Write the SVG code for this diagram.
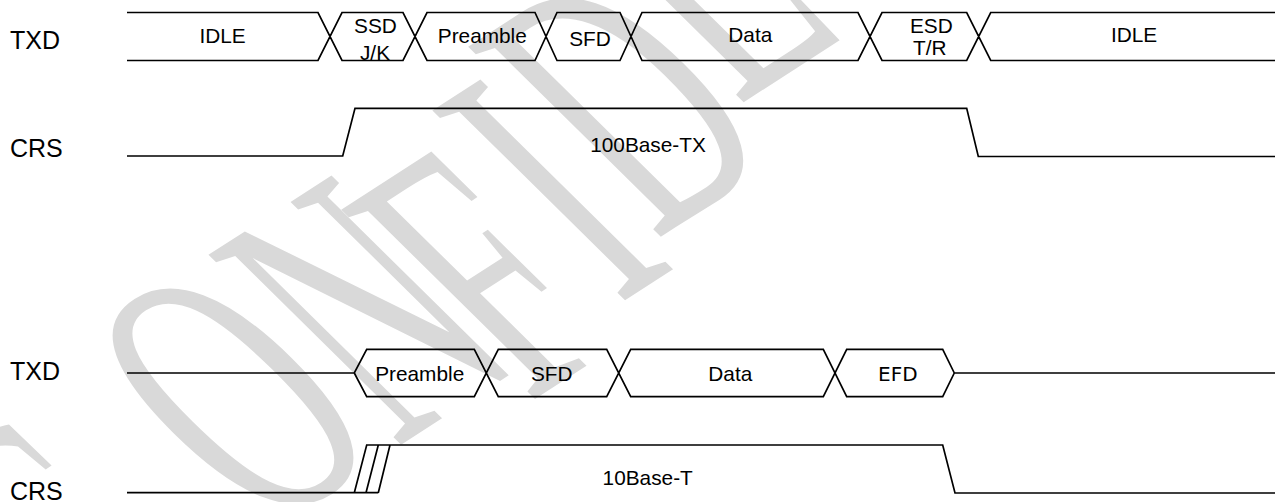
<svg xmlns="http://www.w3.org/2000/svg" width="1275" height="502" viewBox="0 0 1275 502">
<style>
.w{fill:none;stroke:#000;stroke-width:1.7;stroke-linejoin:miter}
.lbl{font-family:"Liberation Sans",Arial,sans-serif;font-size:25px;fill:#000}
.t{font-family:"Liberation Sans",Arial,sans-serif;font-size:20.8px;fill:#000;text-anchor:middle}
.tv{font-family:"DejaVu Sans",Verdana,sans-serif;font-size:20px;fill:#000;text-anchor:middle}
.wm{font-family:"Liberation Serif","Times New Roman",serif;font-size:296px;fill:#d9d9d9}
</style>
<rect width="1275" height="502" fill="#fff"/>
<g id="watermark" transform="matrix(0.62,-0.40,0.994,0.98,141,612.6)">
<text class="wm" x="-120 197 411 585 770 870" y="20 0 0 25 0 -25 -75 -120">CONFIDENTIAL</text>
</g>
<g id="labels">
<text class="lbl" x="10" y="49">TXD</text>
<text class="lbl" x="10" y="157">CRS</text>
<text class="lbl" x="10" y="380">TXD</text>
<text class="lbl" x="10" y="500">CRS</text>
</g>
<g id="connectors">
<path id="txd1" class="w" d="M127,12.5H318L342,60.5H403L427,12.5H535L557,60.5H620L642,12.5H858L882,60.5H966.7L990.7,12.5H1275 M127,60.5H318L342,12.5H403L427,60.5H535L557,12.5H620L642,60.5H858L882,12.5H966.7L990.7,60.5H1275"/>
<path id="crs1" class="w" d="M127,156H342.7L355,108.3H966.7L978.3,156.5H1275"/>
<path id="txd2" class="w" d="M127,373H354.3L366.7,349.3H474.3L498.3,396.7H606.7L630.7,349.3H823.3L846.7,396.7H942.7L954.3,373H1275 M354.3,373L366.7,396.7H474.3L498.3,349.3H606.7L630.7,396.7H823.3L846.7,349.3H942.7L954.3,373"/>
<path id="crs2" class="w" d="M127,492.7H378.3 M354.3,492.7L366.7,445H942.7L955,493H1275 M366,492.7L378.3,445 M378.3,492.7L390,445"/>
</g>
<g id="seg-idle1"><text class="t" x="222.5" y="43.3">IDLE</text></g>
<g id="seg-ssd"><text class="t" x="375.5" y="33.3">SSD</text><text class="t" x="375" y="59.5">J/K</text></g>
<g id="seg-pre1"><text class="t" x="482.3" y="43.3">Preamble</text></g>
<g id="seg-sfd1"><text class="t" x="590" y="45.7">SFD</text></g>
<g id="seg-data1"><text class="t" x="750.3" y="42.3">Data</text></g>
<g id="seg-esd"><text class="t" x="931.3" y="33.3">ESD</text><text class="t" x="929.7" y="55">T/R</text></g>
<g id="seg-idle2"><text class="t" x="1134" y="41.7">IDLE</text></g>
<g id="crs1-label"><text class="t" x="648" y="151.5">100Base-TX</text></g>
<g id="seg-pre2"><text class="t" x="419.7" y="380.7">Preamble</text></g>
<g id="seg-sfd2"><text class="t" x="551.8" y="380.7">SFD</text></g>
<g id="seg-data2"><text class="t" x="730.3" y="380.7">Data</text></g>
<g id="seg-efd"><text class="tv" x="897.8" y="380.7">EFD</text></g>
<g id="crs2-label"><text class="t" x="647.7" y="485">10Base-T</text></g>
</svg>
